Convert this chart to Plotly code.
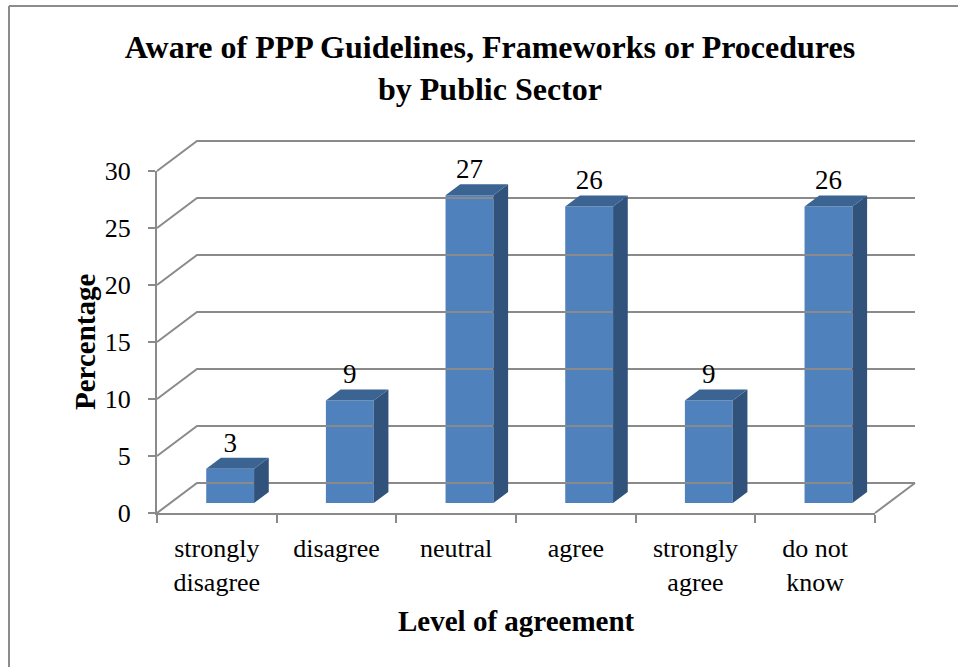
import plotly.graph_objects as go

# ---------------- data ----------------
TICK_LABELS = ["strongly<br>disagree", "disagree", "neutral", "agree",
               "strongly<br>agree", "do not<br>know"]
VALUES = [3, 9, 27, 26, 9, 26]
Y_TICKS = [0, 5, 10, 15, 20, 25, 30]
TITLE = "Aware of PPP Guidelines, Frameworks or Procedures<br>by Public Sector"
X_TITLE = "Level of agreement"
Y_TITLE = "Percentage"

# ---------------- geometry (pixels) ----------------
W, H = 958, 667
X_LEFT, X_RIGHT = 157, 875      # front plane x extent
Y_ZERO, Y_TOP = 513, 171        # front plane y of 0 and of 30
Y_MAX = 30
DEPTH_DX, DEPTH_DY = 40, 30     # offset of back wall
BAR_D_FRONT, BAR_D_BACK = 0.333, 0.70
BAR_WIDTH = 0.4
LABEL_GAP_PX = 24

FONT = "Liberation Serif, Times New Roman, serif"
GRID = "#8a8a8a"
FRONT_C = "#4F81BD"
TOP_C = "#3C6493"
SIDE_C = "#30527B"

n = len(VALUES)
cat_px = (X_RIGHT - X_LEFT) / n
val_px = (Y_ZERO - Y_TOP) / Y_MAX
du = lambda px: px / cat_px
dv = lambda px: px / val_px

x_range = [-0.5 - X_LEFT / cat_px, -0.5 + (W - X_LEFT) / cat_px]
y_range = [-(H - Y_ZERO) / val_px, Y_ZERO / val_px]

fig = go.Figure()

# back wall gridlines + left wall diagonals
gx, gy = [], []
for t in Y_TICKS:
    gx += [-0.5, -0.5 + du(DEPTH_DX), n - 0.5 + du(DEPTH_DX), None]
    gy += [t, t + dv(DEPTH_DY), t + dv(DEPTH_DY), None]
gx += [n - 0.5, n - 0.5 + du(DEPTH_DX), None]
gy += [0, dv(DEPTH_DY), None]
fig.add_trace(go.Scatter(x=gx, y=gy, mode="lines", line=dict(color=GRID, width=2),
                         hoverinfo="skip", showlegend=False, xaxis="x", yaxis="y"))

fx = [i + du(DEPTH_DX * BAR_D_FRONT) for i in range(n)]
base = dv(DEPTH_DY * BAR_D_FRONT)
ddx = du(DEPTH_DX * (BAR_D_BACK - BAR_D_FRONT))
ddy = dv(DEPTH_DY * (BAR_D_BACK - BAR_D_FRONT))

for i, v in enumerate(VALUES):
    xl = fx[i] - BAR_WIDTH / 2
    xr = fx[i] + BAR_WIDTH / 2
    top = base + v
    fig.add_trace(go.Scatter(
        x=[xr, xr, xr + ddx, xr + ddx, xr], y=[base, top, top + ddy, base + ddy, base],
        mode="lines", fill="toself", fillcolor=SIDE_C, line=dict(width=0, color=SIDE_C),
        hoverinfo="skip", showlegend=False))
    fig.add_trace(go.Scatter(
        x=[xl, xr, xr + ddx, xl + ddx, xl], y=[top, top, top + ddy, top + ddy, top],
        mode="lines", fill="toself", fillcolor=TOP_C, line=dict(width=0, color=TOP_C),
        hoverinfo="skip", showlegend=False))

fig.add_trace(go.Bar(x=fx, y=VALUES, base=[base] * n, width=BAR_WIDTH,
                     marker=dict(color=FRONT_C, line=dict(width=0)),
                     hoverinfo="skip", showlegend=False))

fig.add_trace(go.Scatter(
    x=fx, y=[base + v + dv(LABEL_GAP_PX) for v in VALUES], mode="text",
    text=[str(v) for v in VALUES], textposition="middle center",
    textfont=dict(family=FONT, size=27, color="black"),
    hoverinfo="skip", showlegend=False))

fig.add_trace(go.Scatter(x=TICK_LABELS, y=[0] * n, mode="markers",
                         marker=dict(opacity=0), hoverinfo="skip", showlegend=False,
                         xaxis="x2", yaxis="y2"))

fig.update_layout(
    width=W, height=H,
    autosize=False,
    margin=dict(l=0, r=0, t=0, b=0, pad=0, autoexpand=False),
    paper_bgcolor="white", plot_bgcolor="rgba(0,0,0,0)",
    showlegend=False,
    title=dict(text="<b>" + TITLE + "</b>", x=490 / W, xanchor="center",
               y=1 - 58 / H, yanchor="middle", automargin=False,
               font=dict(family=FONT, size=32, color="black")),
    xaxis=dict(domain=[0, 1], range=x_range, visible=False, fixedrange=True),
    yaxis=dict(domain=[0, 1], range=y_range, visible=False, fixedrange=True),
    xaxis2=dict(domain=[X_LEFT / W, X_RIGHT / W], anchor="y2", type="category",
                categoryorder="array", categoryarray=TICK_LABELS, range=[-0.5, n - 0.5],
                tickson="boundaries", ticks="outside", ticklen=8, tickwidth=2,
                tickcolor=GRID, showline=True, linecolor=GRID, linewidth=2,
                showgrid=False, zeroline=False, automargin=False, fixedrange=True,
                tickfont=dict(family=FONT, size=26, color="black"), ticklabelstandoff=11),
    yaxis2=dict(domain=[(H - Y_ZERO) / H, (H - Y_TOP) / H], anchor="x2",
                range=[0, Y_MAX], tickvals=Y_TICKS, ticks="outside", ticklen=7,
                tickwidth=2, tickcolor=GRID, showline=True, linecolor=GRID, linewidth=2,
                showgrid=False, zeroline=False, automargin=False, fixedrange=True,
                tickfont=dict(family=FONT, size=26, color="black"), ticklabelstandoff=12),
    annotations=[
        dict(text="<b>" + Y_TITLE + "</b>", x=85 / W, y=1 - 342 / H, xref="paper",
             yref="paper", textangle=-90, showarrow=False, xanchor="center",
             yanchor="middle", font=dict(family=FONT, size=29, color="black")),
        dict(text="<b>" + X_TITLE + "</b>", x=516 / W, y=1 - 621 / H, xref="paper",
             yref="paper", showarrow=False, xanchor="center", yanchor="middle",
             font=dict(family=FONT, size=29, color="black")),
    ],
    shapes=[
        dict(type="line", xref="paper", yref="paper", x0=9 / W, x1=1,
             y0=1 - 6 / H, y1=1 - 6 / H, line=dict(color="#8c8c8c", width=2)),
        dict(type="line", xref="paper", yref="paper", x0=9 / W, x1=9 / W,
             y0=1 - 6 / H, y1=0, line=dict(color="#8c8c8c", width=2)),
    ],
)

fig.write_html("out.html",
               config={"displayModeBar": False, "staticPlot": True},
               post_script="document.body.style.margin='0';"
                           "document.body.style.overflow='hidden';")
